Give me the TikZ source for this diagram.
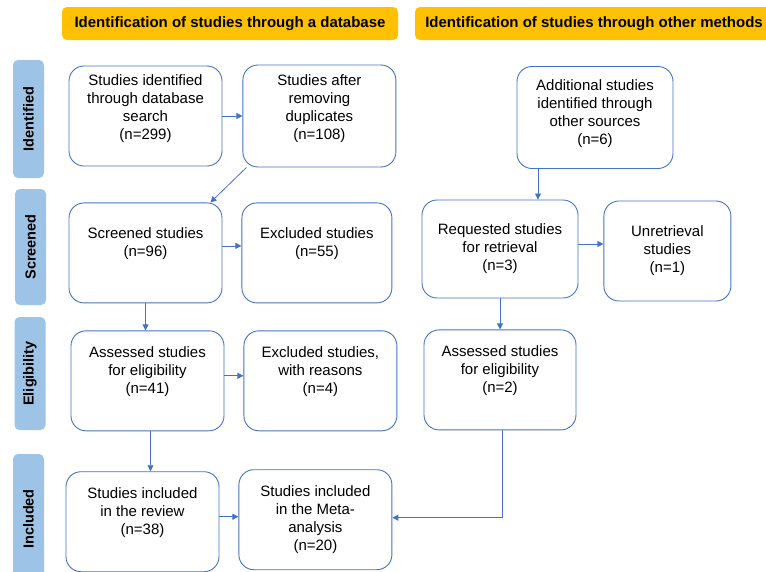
\documentclass[tikz,border=0pt]{standalone}
\usepackage{fontspec}
\setmainfont{Liberation Sans}
\usetikzlibrary{positioning,arrows.meta}
\definecolor{boxblue}{HTML}{4472C4}
\definecolor{barblue}{HTML}{9DC3E6}
\definecolor{hdrorange}{HTML}{FFC000}
\begin{document}
\begin{tikzpicture}[x=1pt, y=-1pt, node distance=20pt,
        box/.style = {draw=boxblue, line width=0.9pt, rounded corners=15pt, minimum width=153pt, minimum height=100pt, align=center, font=\fontsize{15}{18}\selectfont},
        up/.style = {text depth=#1}, up/.default=22pt,
        hdr/.style = {fill=hdrorange, rounded corners=5pt, minimum height=33pt, font=\fontsize{15}{18}\selectfont\bfseries},
        side/.style = {fill=barblue, rounded corners=5pt, rotate=90, minimum height=31pt, font=\fontsize{14.5}{17}\selectfont\bfseries},
        arr/.style = {draw=boxblue, line width=0.8pt, -{Triangle[length=6pt,width=6pt]}}]
    \useasboundingbox (0,0) rectangle (766,571);
    % headers
    \node[hdr, minimum width=336pt] (hdrdb) at (230,23.5) {Identification of studies through a database};
    \node[hdr, minimum width=358pt] (hdrother) at (594,23.5) {Identification of studies through other methods};
    % phases
    \node[side, minimum width=118pt] (sideid) at (28.5,119) {Identified};
    \node[side, minimum width=116pt] (sidescr) at (30.5,247) {Screened};
    \node[side, minimum width=113pt] (sideel) at (30,373.5) {Eligibility};
    \node[side, minimum width=130pt] (sidein) at (28.5,519) {Included};
    % database
    \node[box, up=18pt] (a1) at (145.5,116) {Studies identified\\through database\\search\\(n=299)};
    \node[box, up=18pt, right=20pt of a1, minimum height=102pt] (a2) {Studies after\\removing\\duplicates\\(n=108)};
    \node[box, up, below=36pt of a1] (b1) {Screened studies\\(n=96)};
    \node[box, up, right=19pt of b1, minimum width=150pt] (b2) {Excluded studies\\(n=55)};
    \node[box, up, below=27pt of b1, xshift=2pt] (c1) {Assessed studies\\for eligibility\\(n=41)};
    \node[box, up, right=19pt of c1] (c2) {Excluded studies,\\with reasons\\(n=4)};
    \node[box, up, below=40pt of c1, xshift=-5pt] (d1) {Studies included\\in the review\\(n=38)};
    \node[box, right=19pt of d1, yshift=2pt] (d2) {Studies included\\in the Meta-\\analysis\\(n=20)};
    % other methods
    \node[box, up=10pt, minimum width=156pt, minimum height=102pt] (r1) at (595,117.5) {Additional studies\\identified through\\other sources\\(n=6)};
    \node[box, minimum width=156pt, minimum height=98pt] (r2) at (500,249) {Requested studies\\for retrieval\\(n=3)};
    \node[box, right=25pt of r2, minimum width=127pt, yshift=-2pt] (r3) {Unretrieval\\studies\\(n=1)};
    \node[box, up, below=31pt of r2, minimum width=152pt] (r4) {Assessed studies\\for eligibility\\(n=2)};
    % arrows
    \draw[arr] (a1.east) -- (a1.east -| a2.west);
    \draw[arr] ([xshift=4pt]a2.south west) -- ([xshift=-12pt]b1.north east);
    \draw[arr] ([yshift=7pt]b1.east) -- ([yshift=7pt]b1.east -| b2.west);
    \draw[arr] (b1.south) -- (b1.south |- c1.north);
    \draw[arr] ([yshift=5pt]c1.east) -- ([yshift=5pt]c1.east -| c2.west);
    \draw[arr] ([xshift=3pt]c1.south) -- ([xshift=3pt]c1.south |- d1.north);
    \draw[arr] ([yshift=5pt]d1.east) -- ([yshift=5pt]d1.east -| d2.west);
    \draw[arr] ([xshift=2pt]r4.south) |- ([yshift=2pt]d2.east);
    \draw[arr] ([xshift=-57pt]r1.south) -- ([xshift=-57pt]r1.south |- r2.north);
    \draw[arr] ([yshift=5pt]r2.east) -- ([yshift=5pt]r2.east -| r3.west);
    \draw[arr] (r2.south) -- (r2.south |- r4.north);
\end{tikzpicture}
\end{document}
